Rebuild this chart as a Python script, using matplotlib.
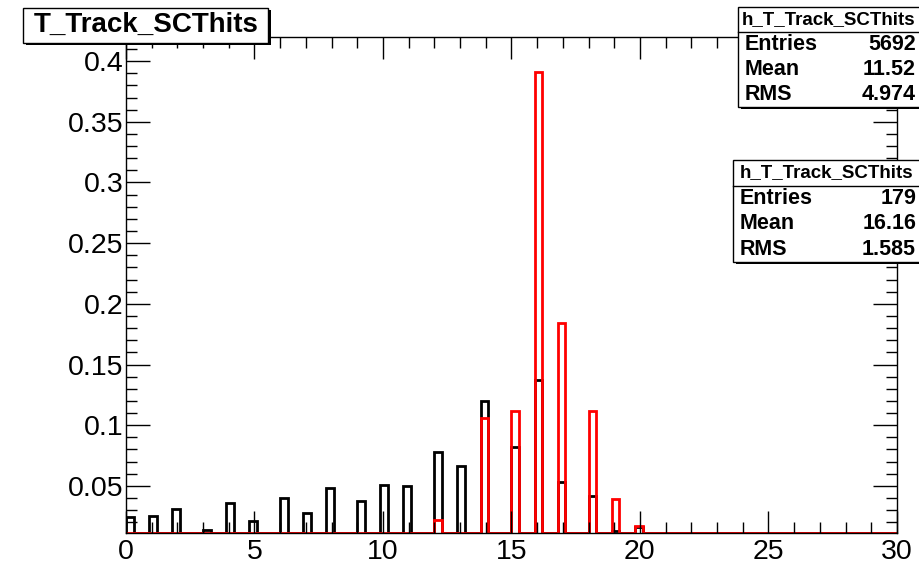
import numpy as np
import matplotlib.pyplot as plt
from matplotlib.patches import Rectangle
from matplotlib.ticker import MultipleLocator, FuncFormatter

plt.rcParams['font.family'] = ['Liberation Sans', 'DejaVu Sans']

# number of SC hits and normalised fraction of tracks
hits_all = [0, 1, 2, 3, 4, 5, 6, 7, 8, 9, 10, 11, 12, 13, 14, 15, 16, 17, 18, 19, 20]
frac_all = [0.0247, 0.0255, 0.0313, 0.0137, 0.0357, 0.0214, 0.0400, 0.0277, 0.0486,
            0.0379, 0.0508, 0.0500, 0.0783, 0.0665, 0.1200, 0.0824, 0.1375, 0.0536,
            0.0417, 0.0130, 0.0160]

hits_sel = [12, 14, 15, 16, 17, 18, 19, 20]
frac_sel = [0.0223, 0.1061, 0.1117, 0.3911, 0.1844, 0.1117, 0.0391, 0.0168]

stats_all = ["h_T_Track_SCThits", ("Entries", "5692"), ("Mean", "11.52"), ("RMS", "4.974")]
stats_sel = ["h_T_Track_SCThits", ("Entries", "179"), ("Mean", "16.16"), ("RMS", "1.585")]

edges = np.linspace(0, 30, 101)
h_all, _ = np.histogram(np.array(hits_all) + 1e-6, bins=edges, weights=frac_all)
h_sel, _ = np.histogram(np.array(hits_sel) + 1e-6, bins=edges, weights=frac_sel)

fig = plt.figure(figsize=(9.19, 5.69), dpi=100)
ax = fig.add_axes([0.137, 0.0633, 0.839, 0.872])

ymin = 0.0112
ax.stairs(np.maximum(h_all, ymin), edges, baseline=ymin, color='black', lw=2)
ax.stairs(np.maximum(h_sel, ymin), edges, baseline=ymin, color='#ff0000', lw=2)

ax.set_xlim(0, 30)
ax.set_ylim(ymin, 0.42)
ax.xaxis.set_major_locator(MultipleLocator(5))
ax.xaxis.set_minor_locator(MultipleLocator(1))
ax.yaxis.set_major_locator(MultipleLocator(0.05))
ax.yaxis.set_minor_locator(MultipleLocator(0.01))
ax.yaxis.set_major_formatter(FuncFormatter(lambda v, p: f'{v:g}'))
ax.tick_params(which='both', direction='in', top=True, right=True, labelsize=20.5, width=1)
ax.tick_params(axis='y', which='major', length=17, pad=2)
ax.tick_params(axis='y', which='minor', length=8)
ax.tick_params(axis='x', which='major', length=16, pad=4)
ax.tick_params(axis='x', which='minor', length=8)
for s in ax.spines.values():
    s.set_linewidth(1)


def box(x0, y0, x1, y1):
    # pixel coords from top-left, converted to figure fraction
    W, H = 919, 569
    fig.patches.append(Rectangle((x0 / W + 0.003, 1 - y1 / H - 0.004), (x1 - x0) / W, (y1 - y0) / H,
                                 transform=fig.transFigure, facecolor='black', edgecolor='none', zorder=5))
    fig.patches.append(Rectangle((x0 / W, 1 - y1 / H), (x1 - x0) / W, (y1 - y0) / H,
                                 transform=fig.transFigure, facecolor='white', edgecolor='black',
                                 lw=1, zorder=6))


def stats(x0, y0, x1, y1, rows):
    W, H = 919, 569
    box(x0, y0, x1 + 10, y1)
    rh = (y1 - y0) / 4
    fig.add_artist(plt.Line2D([x0 / W, 1], [1 - (y0 + rh) / H] * 2, color='black', lw=1, zorder=7))
    fig.text((x0 + x1) / 2 / W + 0.001, 1 - (y0 + rh / 2) / H, rows[0], ha='center', va='center',
             fontsize=13.5, fontweight='bold', zorder=8)
    for i, (k, v) in enumerate(rows[1:]):
        yc = 1 - (y0 + rh * (i + 1.5)) / H
        fig.text((x0 + 7) / W, yc, k, ha='left', va='center', fontsize=15.5, fontweight='bold', zorder=8)
        fig.text((x1 - 2) / W, yc, v, ha='right', va='center', fontsize=15.5, fontweight='bold', zorder=8)


# title box
box(23, 8, 268, 43)
fig.text(146 / 919, 1 - 25 / 569, "T_Track_SCThits", ha='center', va='center',
         fontsize=20, fontweight='bold', zorder=8)

stats(738, 7, 918, 107, stats_all)
stats(733, 160, 918, 262, stats_sel)

fig.savefig('out.png', dpi=100)
